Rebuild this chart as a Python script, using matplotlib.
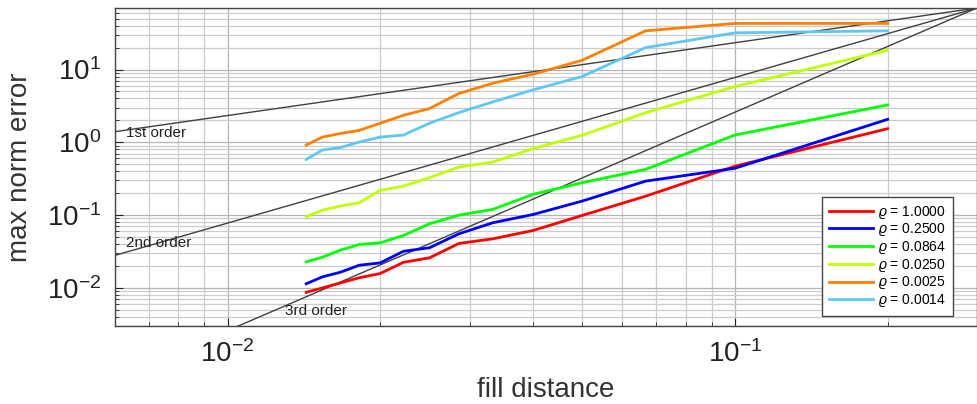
import numpy as np
import matplotlib
matplotlib.use("Agg")
import matplotlib.pyplot as plt

# ---- data -----------------------------------------------------------
fill_distance = [0.01429, 0.01538, 0.01667, 0.01818, 0.02, 0.02222, 0.025,
                 0.02857, 0.03333, 0.04, 0.05, 0.06667, 0.1, 0.2]

err_rho_1_0000 = [0.0087, 0.0100, 0.0117, 0.0138, 0.0158, 0.0225, 0.0259,
                  0.0408, 0.0473, 0.0615, 0.099, 0.182, 0.47, 1.54]
err_rho_0_2500 = [0.0114, 0.0142, 0.0164, 0.0205, 0.0221, 0.0319, 0.0356,
                  0.0554, 0.0786, 0.102, 0.156, 0.293, 0.44, 2.07]
err_rho_0_0864 = [0.0228, 0.0264, 0.033, 0.0395, 0.0417, 0.0525, 0.076,
                  0.0999, 0.120, 0.193, 0.279, 0.425, 1.26, 3.26]
err_rho_0_0250 = [0.095, 0.117, 0.133, 0.148, 0.219, 0.250, 0.327,
                  0.457, 0.536, 0.819, 1.25, 2.55, 5.84, 18.4]
err_rho_0_0025 = [0.918, 1.18, 1.32, 1.46, 1.83, 2.35, 2.91,
                  4.68, 6.48, 8.62, 13.4, 34.0, 43.0, 43.0]
err_rho_0_0014 = [0.583, 0.784, 0.845, 1.01, 1.18, 1.26, 1.83,
                  2.56, 3.59, 5.25, 8.02, 20.0, 31.9, 34.0]

series_labels = [r"$\varrho$ = 1.0000", r"$\varrho$ = 0.2500", r"$\varrho$ = 0.0864",
                 r"$\varrho$ = 0.0250", r"$\varrho$ = 0.0025", r"$\varrho$ = 0.0014"]
series_values = [err_rho_1_0000, err_rho_0_2500, err_rho_0_0864,
                 err_rho_0_0250, err_rho_0_0025, err_rho_0_0014]
series_colors = ["#ff0000", "#0000ff", "#00ff00", "#c0ff00", "#ff8000", "#5ec8f2"]

# reference convergence-order lines: C * (h / h0)^k through (h0, C)
order_h = [0.006, 0.3]
order_anchor_h = 0.3
order_anchor_err = 70.0
orders = [1, 2, 3]
order_labels = ["1st order", "2nd order", "3rd order"]

# ---- style ----------------------------------------------------------
plt.rcParams["font.family"] = ["Liberation Sans", "DejaVu Sans"]
plt.rcParams["mathtext.fontset"] = "custom"
plt.rcParams["mathtext.rm"] = "Liberation Sans"
plt.rcParams["mathtext.it"] = "Liberation Sans:italic"
plt.rcParams["mathtext.fallback"] = "cm"

fig = plt.figure(figsize=(9.77, 4.04), dpi=100)
ax = fig.add_axes([115 / 977, 1 - 326 / 404, 862 / 977, 318 / 404])
ax.set_xscale("log")
ax.set_yscale("log")
ax.set_xlim(0.006, 0.3)
ax.set_ylim(0.003, 70)

ax.grid(True, which="major", color="#b4b4b4", linewidth=0.9)
ax.grid(True, which="minor", color="#cccccc", linewidth=0.9)
ax.set_axisbelow(True)

# order lines
oh = np.array(order_h)
for k in orders:
    ax.plot(oh, order_anchor_err * (oh / order_anchor_h) ** k,
            color="#404040", linewidth=1.0, zorder=2)

for vals, lab, col in zip(series_values, series_labels, series_colors):
    ax.plot(fill_distance, vals, color=col, linewidth=2.0, label=lab, zorder=3)

ax.text((126 - 115) / 862, (326 - 133) / 318, order_labels[0],
        transform=ax.transAxes, fontsize=11, va="center", ha="left", color="#222222")
ax.text((126 - 115) / 862, (326 - 243) / 318, order_labels[1],
        transform=ax.transAxes, fontsize=11, va="center", ha="left", color="#222222")
ax.text((285 - 115) / 862, (326 - 311) / 318, order_labels[2],
        transform=ax.transAxes, fontsize=11, va="center", ha="left", color="#222222")

ax.set_xlabel("fill distance", fontsize=20, color="#333333", labelpad=7)
ax.set_ylabel("max norm error", fontsize=20, color="#333333", labelpad=10)

ax.tick_params(which="both", direction="in", labelsize=20, colors="#222222",
               labelcolor="#222222")
ax.tick_params(which="major", length=6, pad=10, width=0.8)
ax.tick_params(which="minor", length=3, width=0.6)

for s in ax.spines.values():
    s.set_color("#444444")
    s.set_linewidth(1.0)

leg = ax.legend(loc="lower right", bbox_to_anchor=((953 - 115) / 862, (326 - 316) / 318),
                borderaxespad=0, fontsize=10, handlelength=3.2, labelspacing=0.05,
                fancybox=False, framealpha=1, edgecolor="#444444",
                borderpad=0.5, handletextpad=0.35)
leg.get_frame().set_linewidth(1.0)

fig.savefig("out.png", dpi=100)
